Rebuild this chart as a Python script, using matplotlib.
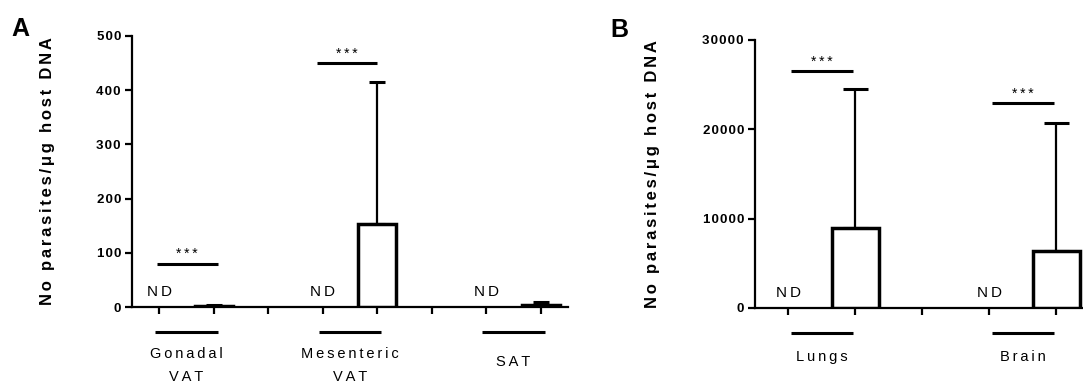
import matplotlib
matplotlib.use("Agg")
import matplotlib.pyplot as plt
import matplotlib.transforms as mtransforms
import numpy as np

plt.rcParams['font.family'] = ['Liberation Sans', 'DejaVu Sans']

# panel A: adipose tissue
a_groups = ["Gonadal\nVAT", "Mesenteric\nVAT", "SAT"]
a_means = [2, 153, 3]
a_errs = [1, 263, 6]
a_sig = [80, 450, None]
a_ticks = [0, 100, 200, 300, 400, 500]

# panel B: organs
b_groups = ["Lungs", "Brain"]
b_means = [9000, 6350]
b_errs = [15500, 14350]
b_sig = [26500, 22900]
b_ticks = [0, 10000, 20000, 30000]

ylabel = "No parasites/\u03bcg host DNA"
TS = "\u2009"
HS = "\u200a"


def spaced(s, sep=TS):
    return "\n".join(sep.join(line) for line in s.split("\n"))


fig = plt.figure(figsize=(10.83, 3.85), dpi=100)
axA = fig.add_axes([132 / 1083, 1 - 307 / 385, 436 / 1083, 271 / 385])
axB = fig.add_axes([755 / 1083, 1 - 308 / 385, 328 / 1083, 268 / 385])


def panel(ax, groups, means, errs, sig, ticks, ymax, cap, line_half, line_y, xr, single_dy):
    n = len(groups)
    pos = np.arange(n) * 3 + 1
    ax.bar(pos, means, width=0.7, color="white", edgecolor="black", linewidth=2.5, zorder=3)
    ax.errorbar(pos, means, yerr=[np.zeros(n), errs], fmt="none", ecolor="black",
                elinewidth=1.6, capsize=cap, capthick=2.2, zorder=2)
    ax.set_xlim(-0.5, xr)
    ax.set_ylim(0, ymax)
    ax.set_xticks(np.arange(0, 3 * n - 1))
    ax.set_xticklabels([])
    ax.set_yticks(ticks)
    ax.set_yticklabels([spaced(str(t), HS) for t in ticks], fontsize=9.5, fontweight="bold")
    for s in ["top", "right"]:
        ax.spines[s].set_visible(False)
    for s in ["left", "bottom"]:
        ax.spines[s].set_linewidth(1.6)
    ax.tick_params(axis="both", direction="out", length=5, width=1.6, pad=3)
    trans = mtransforms.blended_transform_factory(ax.transData, ax.transAxes)
    for i, g in enumerate(groups):
        nd = pos[i] - 1
        ax.text(nd, ymax * 0.028, spaced("ND"), ha="center", va="bottom", fontsize=11)
        c = nd + 0.5
        ax.plot([c - line_half, c + line_half], [line_y, line_y], color="black",
                lw=2.2, transform=trans, clip_on=False, solid_capstyle="butt")
        lab_y = line_y - 0.055 if "\n" in g else line_y - single_dy
        ax.text(c, lab_y, spaced(g), ha="center", va="top", fontsize=10.5,
                transform=trans, linespacing=1.8)
        if sig[i] is not None:
            if n == 3:
                lo, hi = (nd - 0.05, pos[i] + 0.07) if i == 0 else (nd - 0.1, pos[i])
            else:
                lo, hi = nd + 0.04, pos[i] - 0.03
            ax.plot([lo, hi], [sig[i], sig[i]], color="black", lw=2.2,
                    solid_capstyle="butt", clip_on=False)
            ax.text((lo + hi) / 2, sig[i] + ymax * 0.008, spaced("***"), ha="center",
                    va="bottom", fontsize=10)


panel(axA, a_groups, a_means, a_errs, a_sig, a_ticks, 500, 6, 0.57, -0.092, 7.5, 0.085)
panel(axB, b_groups, b_means, b_errs, b_sig, b_ticks, 30000, 9, 0.46, -0.093, 4.4, 0.062)

axA.set_ylabel(spaced(ylabel, HS + HS), fontsize=12, fontweight="bold")
axA.yaxis.set_label_coords(-0.177, 0.5)
axB.set_ylabel(spaced(ylabel, HS + HS), fontsize=12, fontweight="bold")
axB.yaxis.set_label_coords(-0.29, 0.5)

fig.text(11 / 1083, 1 - 36 / 385, "A", fontsize=18, fontweight="bold", va="baseline")
fig.text(610 / 1083, 1 - 37 / 385, "B", fontsize=18, fontweight="bold", va="baseline")

fig.savefig("out.png", dpi=100)
